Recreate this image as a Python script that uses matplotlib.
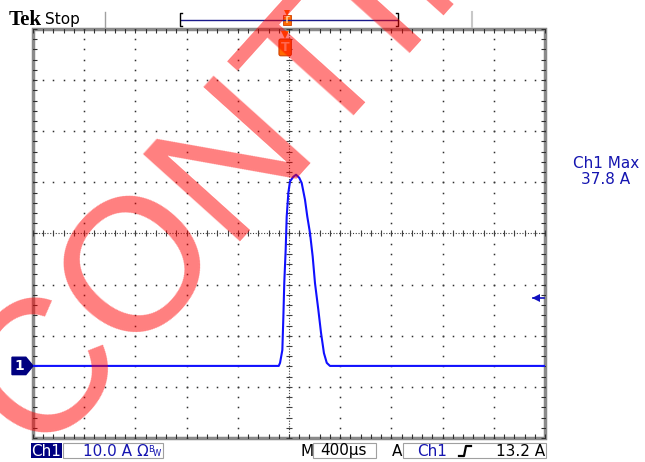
import numpy as np
import matplotlib.pyplot as plt
from matplotlib.patches import Rectangle, Polygon
from matplotlib.transforms import blended_transform_factory

# Scope settings
time_per_div = 400      # us/div
volts_per_div = 10.0    # A/div
ch1_offset = 25.9       # A at graticule centre (Ch1 ground 2.59 div below centre)
trigger_level = 13.2    # A
ch1_max = 37.8

# Captured waveform (time in us, current in A)
t_us = [-2000, -80, -70, -52, -44, -37, -26, -18, -5, 8, 34, 55, 80, 99,
        125, 143, 164, 185, 203, 229, 250, 273, 295, 320, 2000]
amps = [0, 0, 0.6, 3.1, 9.6, 16.2, 22.7, 29.2, 33.9, 36.1, 37.0, 37.4, 36.8, 35.8,
        32.5, 29.2, 26.0, 21.4, 16.2, 11.0, 6.5, 2.5, 0.6, 0, 0]

W, H = 645, 462
fig = plt.figure(figsize=(W / 100, H / 100), dpi=100)
fig.patch.set_facecolor('white')

# Graticule axes
ax = fig.add_axes([33 / W, 1 - 438 / H, (545 - 33) / W, (438 - 29) / H])
ax.set_xlim(-5 * time_per_div, 5 * time_per_div)
ax.set_ylim(ch1_offset - 4 * volts_per_div, ch1_offset + 4 * volts_per_div)
ax.axis('off')

xs_minor = np.arange(-5, 5.01, 0.2) * time_per_div
ys_minor = ch1_offset + np.arange(-4, 4.01, 0.2) * volts_per_div
x_major = [i * time_per_div for i in range(-4, 5) if i != 0]
y_major = [ch1_offset + i * volts_per_div for i in range(-3, 4) if i != 0]

# dotted division lines
for xm in x_major:
    ax.plot(np.full_like(ys_minor, xm), ys_minor, ls='none', marker='s', ms=1.1,
            mew=0, color='#303030')
for ym in y_major:
    ax.plot(xs_minor, np.full_like(xs_minor, ym), ls='none', marker='s', ms=1.1,
            mew=0, color='#303030')

# centre cross with minor ticks
ax.axhline(ch1_offset, ls=(0, (1, 1.5)), lw=0.8, color='#404040')
ax.axvline(0, ls=(0, (1, 1.5)), lw=0.8, color='#404040')
ax.plot(xs_minor, np.full_like(xs_minor, ch1_offset), ls='none', marker='|', ms=4,
        mew=0.8, color='#404040')
ax.plot(np.zeros_like(ys_minor), ys_minor, ls='none', marker='_', ms=4,
        mew=0.8, color='#404040')

# edge ticks
y0, y1 = ax.get_ylim()
x0, x1 = ax.get_xlim()
for yy in (y0, y1):
    ax.plot(xs_minor, np.full_like(xs_minor, yy), ls='none', marker='|', ms=6,
            mew=0.8, color='#303030')
for xx in (x0, x1):
    ax.plot(np.full_like(ys_minor, xx), ys_minor, ls='none', marker='_', ms=6,
            mew=0.8, color='#303030')

ax.add_patch(Rectangle((0, 0), 1, 1, transform=ax.transAxes, fill=False,
                       ec='#8a8a8a', lw=2.5, clip_on=False))

# the trace
ax.plot(t_us, amps, color='#1010ff', lw=1.5, solid_joinstyle='round')

# channel ground marker and trigger level marker
bt = blended_transform_factory(ax.transAxes, ax.transData)
ax.add_patch(Polygon([(-0.041, 1.7), (-0.014, 1.7), (0, 0), (-0.014, -1.7), (-0.041, -1.7)],
                     closed=True, transform=bt, color='#000080', clip_on=False))
ax.text(-0.026, 0, '1', transform=bt, color='white', fontsize=10, fontweight='bold',
        ha='center', va='center', clip_on=False)
ax.plot([0.977, 0.998], [trigger_level, trigger_level], transform=bt, color='#1010c0',
        lw=1.2, clip_on=False)
ax.plot([0.982], [trigger_level], transform=bt, marker='<', ms=6, color='#1010c0',
        mew=0, clip_on=False)

# trigger position marker under top edge
bx = blended_transform_factory(ax.transData, ax.transAxes)
ax.plot([-30], [0.986], transform=bx, marker='v', ms=6, color='#ff6a00', mew=0,
        clip_on=False)
ax.text(-30, 0.955, 'T', transform=bx, ha='center', va='center', fontsize=9,
        fontweight='bold', color='#ffd0a0',
        bbox=dict(boxstyle='round,pad=0.15', fc='#ff6a00', ec='#d04000', lw=0.8))

# screen annotations
ui = fig.add_axes([0, 0, 1, 1])
ui.set_xlim(0, W)
ui.set_ylim(H, 0)
ui.axis('off')
ui.patch.set_alpha(0)

ui.text(9, 25, 'Tek', family='Liberation Serif', fontweight='bold', fontsize=15,
        color='black', va='baseline')
ui.text(45, 24, 'Stop', family='DejaVu Sans', fontsize=11, color='black', va='baseline')
ui.plot([105, 105], [12, 27], color='#a0a0a0', lw=1)
ui.plot([472, 472], [12, 27], color='#c8c8c8', lw=1.5)
ui.plot([181, 397], [19.5, 19.5], color='#1a1a8c', lw=1)
ui.plot([182, 180, 180, 182], [13, 13, 26, 26], color='black', lw=1)
ui.plot([396, 398, 398, 396], [13, 13, 26, 26], color='black', lw=1)
ui.plot([287], [13], marker='v', ms=4, color='#ff6a00', mew=0)
ui.add_patch(Rectangle((283, 15), 8, 10, fc='#ff6a00', ec='#d04000', lw=0.6))
ui.text(287, 20.5, 'T', ha='center', va='center', fontsize=6, color='#ffd0a0',
        fontweight='bold')

ui.add_patch(Rectangle((31, 443), 31, 15, fc='#000080', ec='none'))
ui.text(46.5, 451, 'Ch1', color='white', fontsize=11, ha='center', va='center')
ui.add_patch(Rectangle((63, 443), 100, 15, fc='none', ec='#a0a0a0', lw=0.8))
ui.text(83, 451, '10.0 A', color='#1515b0', fontsize=11, va='center')
ui.text(136, 451, 'Ω', color='#1515b0', fontsize=11, va='center')
ui.text(148, 449, 'B', color='#1515b0', fontsize=6, va='center')
ui.text(153, 454, 'W', color='#1515b0', fontsize=6, va='center')

ui.text(300, 451, 'M', color='black', fontsize=11, va='center')
ui.add_patch(Rectangle((313, 443), 63, 15, fc='none', ec='#a0a0a0', lw=0.8))
ui.text(320, 451, '400µs', color='black', fontsize=11, va='center')
ui.text(392, 451, 'A', color='black', fontsize=11, va='center')
ui.add_patch(Rectangle((403, 443), 143, 15, fc='none', ec='#a0a0a0', lw=0.8))
ui.text(417, 451, 'Ch1', color='#1515b0', fontsize=11, va='center')
ui.plot([459, 464, 466, 471], [456, 456, 446, 446], color='black', lw=1.6)
ui.text(545, 451, f'{trigger_level:.1f} A', color='black', fontsize=11, va='center',
        ha='right')

ui.text(606, 163, 'Ch1 Max', color='#1515b0', fontsize=11, ha='center', va='center')
ui.text(606, 179, f'{ch1_max:.1f} A', color='#1515b0', fontsize=11, ha='center',
        va='center')

# watermark
fig.text(38 / W, 1 - 456 / H, 'CONTINENTAL', family='Liberation Sans', fontsize=136,
         rotation=48, rotation_mode='anchor', ha='left', va='baseline',
         color='red', alpha=0.5, zorder=10)

fig.savefig('out.png', dpi=100)
